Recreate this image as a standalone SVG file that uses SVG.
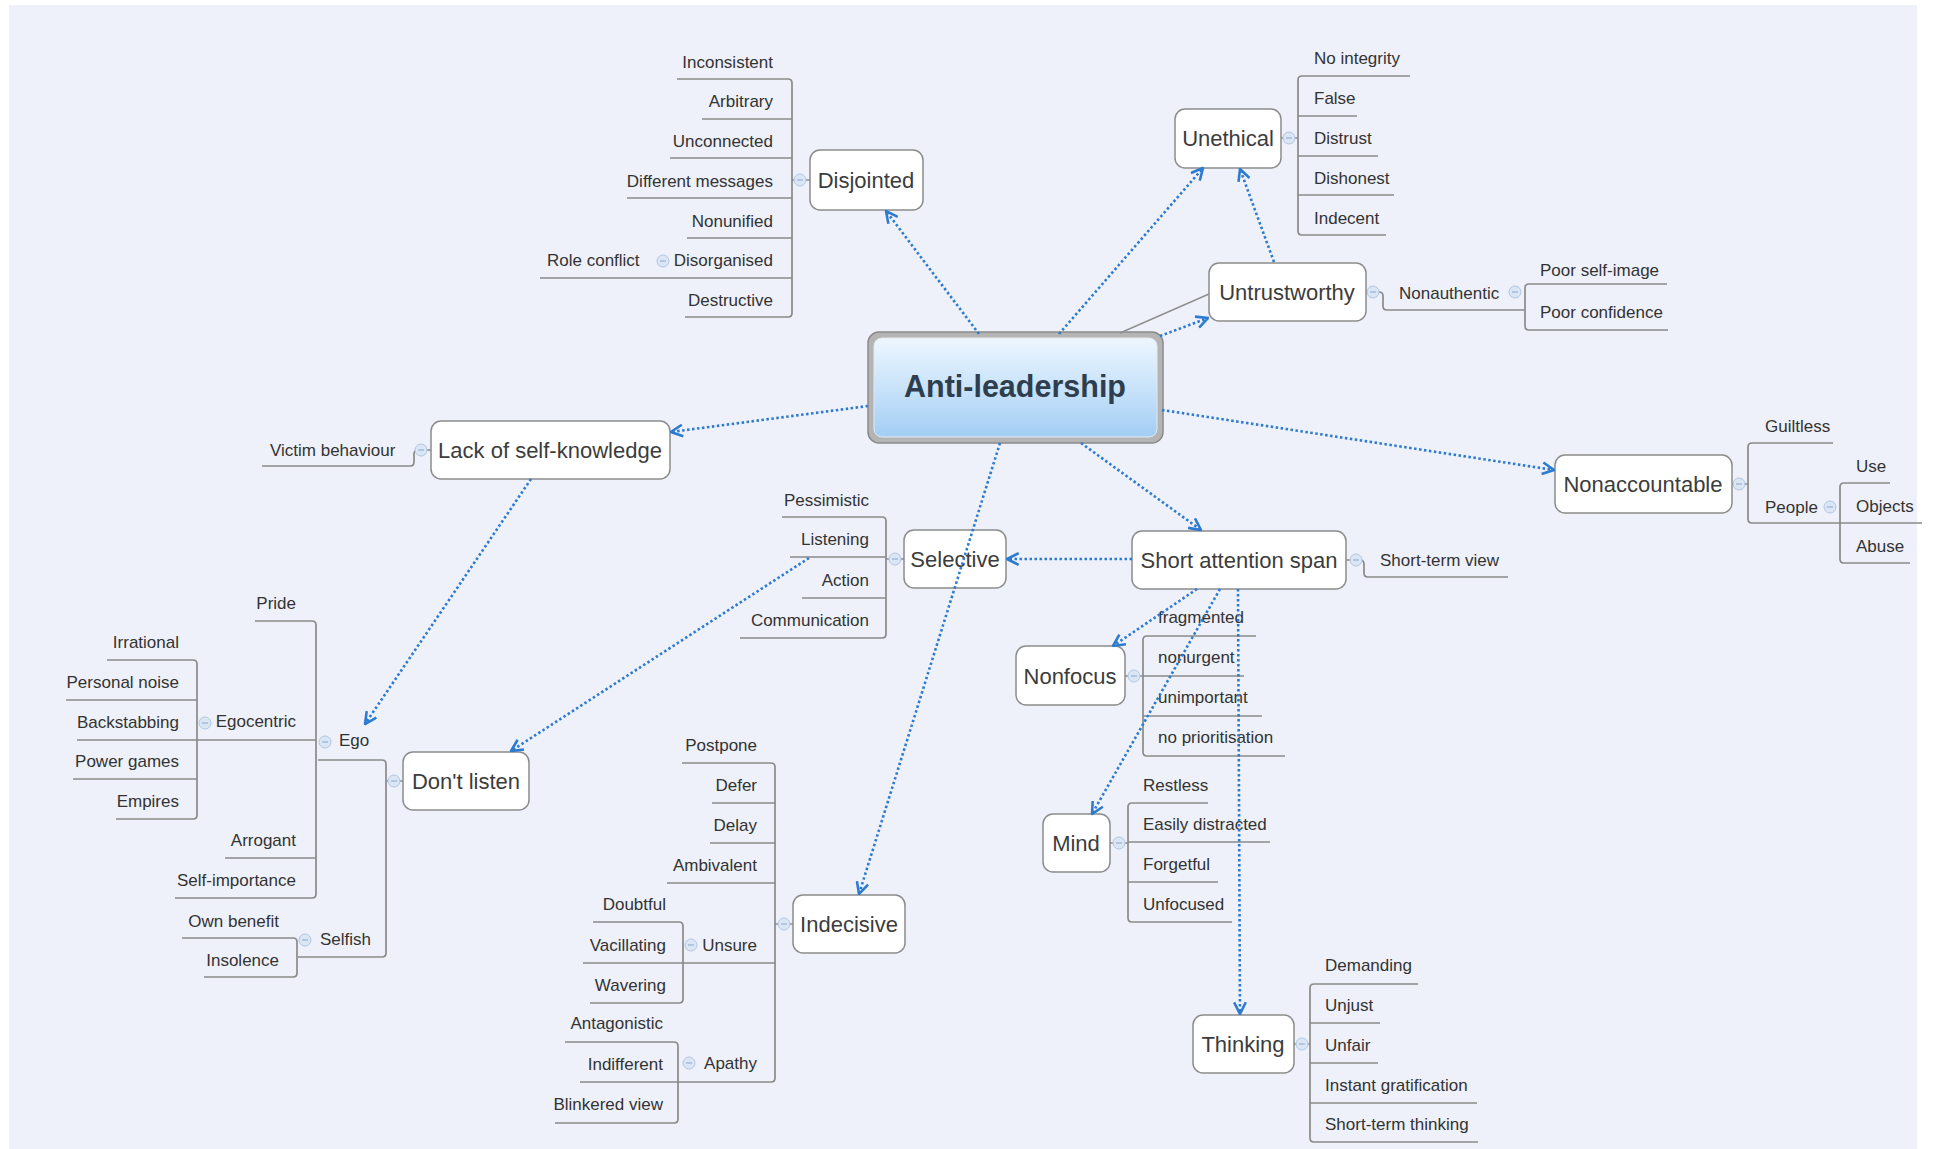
<svg xmlns="http://www.w3.org/2000/svg" width="1935" height="1149" viewBox="0 0 1935 1149">
<defs>
<style>
.nb{fill:#fff;stroke:#8c8c8c;stroke-width:1.5}
.nt{font-family:"Liberation Sans",Arial,sans-serif;font-size:22px;fill:#3c3c3c;text-anchor:middle}
.lt{font-family:"Liberation Sans",Arial,sans-serif;font-size:17px;fill:#333}
.r{text-anchor:end}
.br{fill:none;stroke:#8a8a8a;stroke-width:1.7}
.rel{fill:none;stroke:#8f8f8f;stroke-width:1.4}
.arr{fill:none;stroke:#2d7bd0;stroke-width:2.6;stroke-dasharray:2.5 2.5;marker-end:url(#ah)}
.ic{fill:#dbe6f5;stroke:#b1c6e3;stroke-width:1}
.icm{stroke:#9db4d6;stroke-width:1.3}
</style>
<marker id="ah" viewBox="0 0 12 12" refX="11" refY="6" markerWidth="14" markerHeight="14" markerUnits="userSpaceOnUse" orient="auto">
<path d="M1,1 L11,6 L1,11" fill="none" stroke="#2d7bd0" stroke-width="2.2"/>
</marker>
<linearGradient id="cg" x1="0" y1="0" x2="0" y2="1">
<stop offset="0" stop-color="#edf6fe"/>
<stop offset="0.5" stop-color="#c9e3fa"/>
<stop offset="1" stop-color="#a3cdf4"/>
</linearGradient>
<g id="icn"><circle r="6" class="ic"/><line x1="-3" y1="0" x2="3" y2="0" class="icm"/></g>
</defs>
<rect x="0" y="0" width="1935" height="1149" fill="#fff"/>
<rect x="9" y="5" width="1908" height="1144" fill="#eef1f9"/>

<g id="branches">
<path class="br" d="M677,79 H788 Q792,79 792,83 V313 Q792,317 788,317 H685 M702,119 H792 M670,158 H792 M627,198 H792 M687,238 H792 M540,278 H792 M792,180 H810"/>
<path class="br" d="M1410,76 H1302 Q1298,76 1298,80 V231 Q1298,235 1302,235 H1386 M1298,116 H1357 M1298,156 H1378 M1298,195 H1394 M1281,138 H1298"/>
<path class="br" d="M1366,292 H1379 Q1383,292 1383,296 V306 Q1383,310 1387,310 H1525 M1667,284 H1529 Q1525,284 1525,288 V326 Q1525,330 1529,330 H1668"/>
<path class="br" d="M431,450 H418 Q414,450 414,454 V462 Q414,466 410,466 H262"/>
<path class="br" d="M1732,484 H1748 M1833,443 H1752 Q1748,443 1748,447 V519 Q1748,523 1752,523 H1840 M1890,483 H1844 Q1840,483 1840,487 V559 Q1840,563 1844,563 H1910 M1840,523 H1922"/>
<path class="br" d="M782,517 H882 Q886,517 886,521 V634 Q886,638 882,638 H740 M790,557 H886 M802,598 H886 M886,559 H904"/>
<path class="br" d="M1346,560 H1360 Q1364,560 1364,564 V573 Q1364,577 1368,577 H1508"/>
<path class="br" d="M1125,676 H1143 M1256,636 H1147 Q1143,636 1143,640 V752 Q1143,756 1147,756 H1285 M1143,676 H1244 M1143,716 H1262"/>
<path class="br" d="M1110,843 H1128 M1208,803 H1132 Q1128,803 1128,807 V918 Q1128,922 1132,922 H1232 M1128,842 H1270 M1128,882 H1218"/>
<path class="br" d="M1294,1044 H1310 M1418,984 H1314 Q1310,984 1310,988 V1138 Q1310,1142 1314,1142 H1478 M1310,1023 H1380 M1310,1063 H1378 M1310,1103 H1477"/>
<path class="br" d="M793,924 H775 M682,763 H771 Q775,763 775,767 V1078 Q775,1082 771,1082 H580 M712,803 H775 M710,843 H775 M667,883 H775 M583,963 H775 M593,922 H679 Q683,922 683,926 V999 Q683,1003 679,1003 H590 M565,1042 H674 Q678,1042 678,1046 V1119 Q678,1123 674,1123 H555"/>
<path class="br" d="M403,781 H386 M318,760 H382 Q386,760 386,764 V953 Q386,957 382,957 H298 M255,621 H312 Q316,621 316,625 V894 Q316,898 312,898 H175 M77,740 H316 M225,858 H316 M107,660 H193 Q197,660 197,664 V815 Q197,819 193,819 H116 M66,700 H197 M73,779 H197 M182,938 H293 Q297,938 297,942 V973 Q297,977 293,977 H204"/>
</g>

<g id="icons">
<use href="#icn" x="800" y="180"/>
<use href="#icn" x="663" y="261"/>
<use href="#icn" x="1289" y="138"/>
<use href="#icn" x="1373" y="292"/>
<use href="#icn" x="1515" y="292"/>
<use href="#icn" x="421" y="450"/>
<use href="#icn" x="1739" y="484"/>
<use href="#icn" x="1830" y="507"/>
<use href="#icn" x="895" y="559"/>
<use href="#icn" x="1356" y="560"/>
<use href="#icn" x="1134" y="676"/>
<use href="#icn" x="1119" y="843"/>
<use href="#icn" x="1302" y="1044"/>
<use href="#icn" x="784" y="924"/>
<use href="#icn" x="691" y="945"/>
<use href="#icn" x="689" y="1063"/>
<use href="#icn" x="394" y="781"/>
<use href="#icn" x="325" y="742"/>
<use href="#icn" x="205" y="723"/>
<use href="#icn" x="305" y="940"/>
</g>

<g id="n-anti">
<rect x="868" y="332" width="295" height="111" rx="11" fill="#b4b4b4" stroke="#8a8a8a" stroke-width="1.5"/>
<rect x="874" y="338" width="283" height="99" rx="8" fill="url(#cg)" stroke="#e4e9ef" stroke-width="1"/>
<text x="1015" y="397" text-anchor="middle" font-family="Liberation Sans, Arial, sans-serif" font-size="30.5" font-weight="bold" fill="#2f3e4e">Anti-leadership</text>
</g>

<g id="n-disjointed">
<rect class="nb" x="810" y="150" width="113" height="60" rx="10"/>
<text class="nt" x="866" y="188">Disjointed</text>
<text class="lt r" x="773" y="68">Inconsistent</text>
<text class="lt r" x="773" y="107">Arbitrary</text>
<text class="lt r" x="773" y="147">Unconnected</text>
<text class="lt r" x="773" y="187">Different messages</text>
<text class="lt r" x="773" y="227">Nonunified</text>
<text class="lt r" x="773" y="266">Disorganised</text>
<text class="lt" x="547" y="266">Role conflict</text>
<text class="lt r" x="773" y="306">Destructive</text>
</g>

<g id="n-unethical">
<rect class="nb" x="1175" y="109" width="106" height="59" rx="10"/>
<text class="nt" x="1228" y="146">Unethical</text>
<text class="lt" x="1314" y="64">No integrity</text>
<text class="lt" x="1314" y="104">False</text>
<text class="lt" x="1314" y="144">Distrust</text>
<text class="lt" x="1314" y="184">Dishonest</text>
<text class="lt" x="1314" y="224">Indecent</text>
</g>

<g id="n-untrustworthy">
<rect class="nb" x="1209" y="263" width="157" height="58" rx="10"/>
<text class="nt" x="1287" y="300">Untrustworthy</text>
<text class="lt" x="1399" y="299">Nonauthentic</text>
<text class="lt" x="1540" y="276">Poor self-image</text>
<text class="lt" x="1540" y="318">Poor confidence</text>
</g>

<g id="n-lack">
<rect class="nb" x="431" y="421" width="239" height="58" rx="10"/>
<text class="nt" x="550" y="458">Lack of self-knowledge</text>
<text class="lt" x="270" y="456">Victim behaviour</text>
</g>

<g id="n-nonaccountable">
<rect class="nb" x="1555" y="455" width="177" height="58" rx="10"/>
<text class="nt" x="1643" y="492">Nonaccountable</text>
<text class="lt" x="1765" y="432">Guiltless</text>
<text class="lt" x="1765" y="513">People</text>
<text class="lt" x="1856" y="472">Use</text>
<text class="lt" x="1856" y="512">Objects</text>
<text class="lt" x="1856" y="552">Abuse</text>
</g>

<g id="n-selective">
<rect class="nb" x="904" y="530" width="102" height="58" rx="10"/>
<text class="nt" x="955" y="567">Selective</text>
<text class="lt r" x="869" y="506">Pessimistic</text>
<text class="lt r" x="869" y="545">Listening</text>
<text class="lt r" x="869" y="586">Action</text>
<text class="lt r" x="869" y="626">Communication</text>
</g>

<g id="n-short">
<rect class="nb" x="1132" y="531" width="214" height="58" rx="10"/>
<text class="nt" x="1239" y="568">Short attention span</text>
<text class="lt" x="1380" y="566">Short-term view</text>
</g>

<g id="n-nonfocus">
<rect class="nb" x="1016" y="646" width="109" height="59" rx="10"/>
<text class="nt" x="1070" y="684">Nonfocus</text>
<text class="lt" x="1158" y="623">fragmented</text>
<text class="lt" x="1158" y="663">nonurgent</text>
<text class="lt" x="1158" y="703">unimportant</text>
<text class="lt" x="1158" y="743">no prioritisation</text>
</g>

<g id="n-mind">
<rect class="nb" x="1043" y="814" width="67" height="58" rx="10"/>
<text class="nt" x="1076" y="851">Mind</text>
<text class="lt" x="1143" y="791">Restless</text>
<text class="lt" x="1143" y="830">Easily distracted</text>
<text class="lt" x="1143" y="870">Forgetful</text>
<text class="lt" x="1143" y="910">Unfocused</text>
</g>

<g id="n-thinking">
<rect class="nb" x="1193" y="1015" width="101" height="58" rx="10"/>
<text class="nt" x="1243" y="1052">Thinking</text>
<text class="lt" x="1325" y="971">Demanding</text>
<text class="lt" x="1325" y="1011">Unjust</text>
<text class="lt" x="1325" y="1051">Unfair</text>
<text class="lt" x="1325" y="1091">Instant gratification</text>
<text class="lt" x="1325" y="1130">Short-term thinking</text>
</g>

<g id="n-indecisive">
<rect class="nb" x="793" y="895" width="112" height="58" rx="10"/>
<text class="nt" x="849" y="932">Indecisive</text>
<text class="lt r" x="757" y="751">Postpone</text>
<text class="lt r" x="757" y="791">Defer</text>
<text class="lt r" x="757" y="831">Delay</text>
<text class="lt r" x="757" y="871">Ambivalent</text>
<text class="lt r" x="757" y="951">Unsure</text>
<text class="lt r" x="757" y="1069">Apathy</text>
<text class="lt r" x="666" y="910">Doubtful</text>
<text class="lt r" x="666" y="951">Vacillating</text>
<text class="lt r" x="666" y="991">Wavering</text>
<text class="lt r" x="663" y="1029">Antagonistic</text>
<text class="lt r" x="663" y="1070">Indifferent</text>
<text class="lt r" x="663" y="1110">Blinkered view</text>
</g>

<g id="n-dontlisten">
<rect class="nb" x="403" y="752" width="126" height="58" rx="10"/>
<text class="nt" x="466" y="789">Don't listen</text>
<text class="lt" x="339" y="746">Ego</text>
<text class="lt r" x="296" y="609">Pride</text>
<text class="lt r" x="296" y="727">Egocentric</text>
<text class="lt r" x="296" y="846">Arrogant</text>
<text class="lt r" x="296" y="886">Self-importance</text>
<text class="lt r" x="179" y="648">Irrational</text>
<text class="lt r" x="179" y="688">Personal noise</text>
<text class="lt r" x="179" y="728">Backstabbing</text>
<text class="lt r" x="179" y="767">Power games</text>
<text class="lt r" x="179" y="807">Empires</text>
<text class="lt" x="320" y="945">Selfish</text>
<text class="lt r" x="279" y="927">Own benefit</text>
<text class="lt r" x="279" y="966">Insolence</text>
</g>

<g id="connectors">
<path class="rel" d="M1120,333 L1209,294"/>
<path class="arr" d="M979,334 L886,211"/>
<path class="arr" d="M1059,334 L1203,168"/>
<path class="arr" d="M1274,262 L1240,169"/>
<path class="arr" d="M1160,336 L1208,318"/>
<path class="arr" d="M868,406 L671,432"/>
<path class="arr" d="M1162,410 L1554,470"/>
<path class="arr" d="M1081,443 L1201,530"/>
<path class="arr" d="M1000,443 L859,894"/>
<path class="arr" d="M1132,559 L1007,559"/>
<path class="arr" d="M1197,589 L1113,646"/>
<path class="arr" d="M1220,589 L1092,814"/>
<path class="arr" d="M1238,589 L1240,1014"/>
<path class="arr" d="M531,479 L365,724"/>
<path class="arr" d="M809,558 L511,751"/>
</g>
</svg>
